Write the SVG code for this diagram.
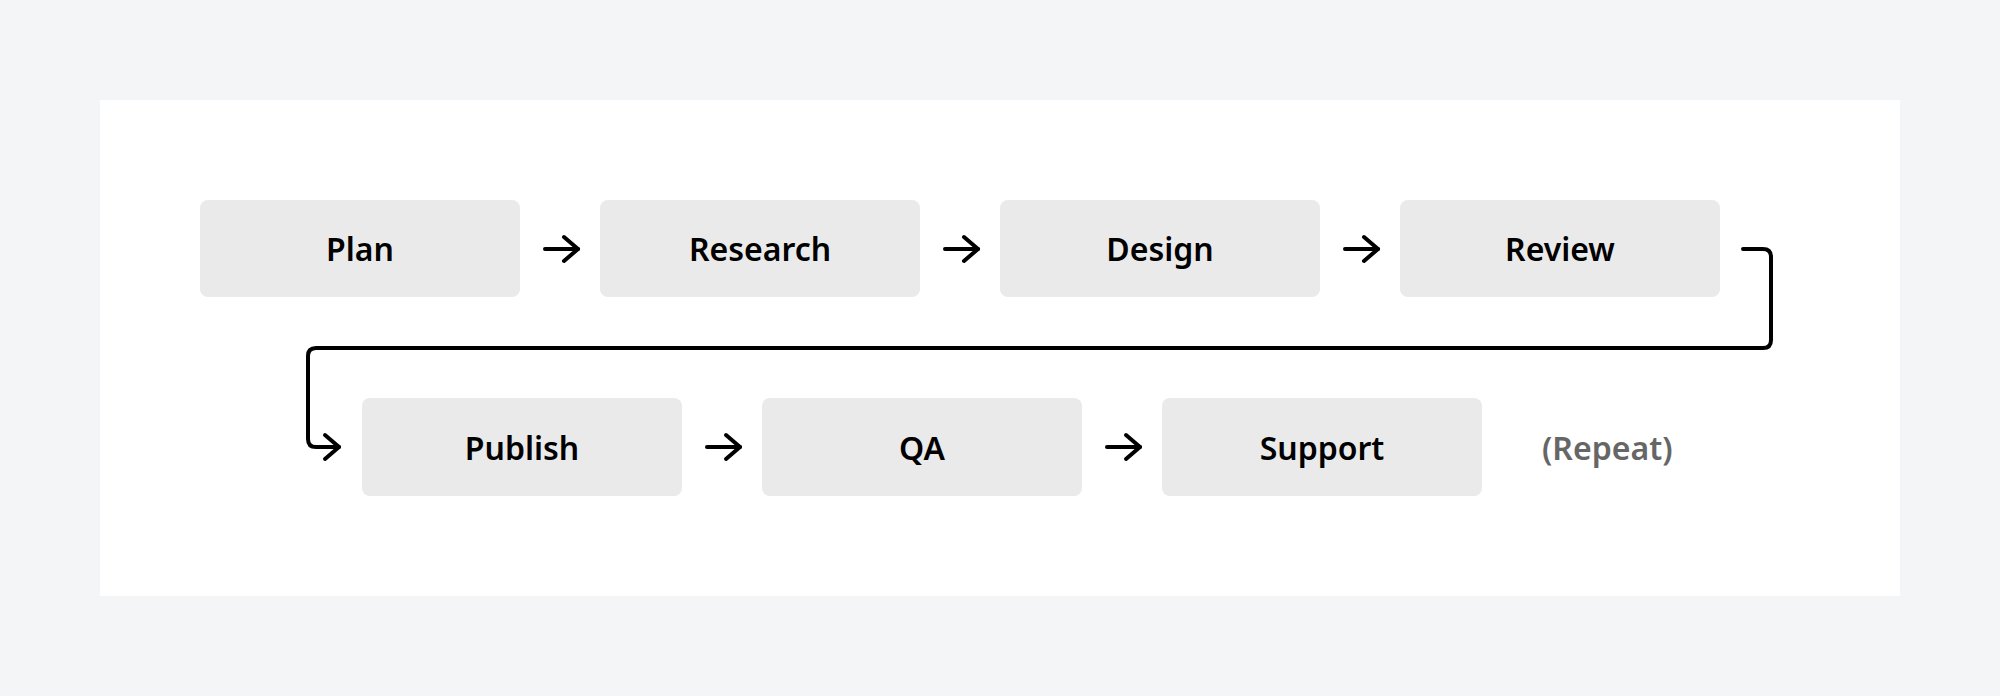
<svg xmlns="http://www.w3.org/2000/svg" width="2000" height="696" viewBox="0 0 2000 696">
<defs>
<style>
.node rect{fill:#eaeaea}
.node text{font-family:"Noto Sans","Open Sans",sans-serif;font-weight:600;font-size:32px;fill:#000;text-anchor:middle;dominant-baseline:central}
.conn{fill:none;stroke:#000;stroke-width:4;stroke-linecap:round;stroke-linejoin:round}
.note{font-family:"Noto Sans","Open Sans",sans-serif;font-weight:600;font-size:32px;fill:#666}
</style>
<marker id="ah" viewBox="0 0 20 30" refX="17" refY="15" markerWidth="20" markerHeight="30" markerUnits="userSpaceOnUse" orient="auto">
<path d="M3 3 L17 15 L3 27" fill="none" stroke="#000" stroke-width="4" stroke-linecap="round" stroke-linejoin="round"/>
</marker>
</defs>
<rect width="2000" height="696" fill="#f4f5f7"/>
<rect x="100" y="100" width="1800" height="496" fill="#fff"/>
<g id="plan" class="node"><rect x="200" y="200" width="320" height="97" rx="8"/><text x="360" y="248.5">Plan</text></g>
<g id="research" class="node"><rect x="600" y="200" width="320" height="97" rx="8"/><text x="760" y="248.5">Research</text></g>
<g id="design" class="node"><rect x="1000" y="200" width="320" height="97" rx="8"/><text x="1160" y="248.5">Design</text></g>
<g id="review" class="node"><rect x="1400" y="200" width="320" height="97" rx="8"/><text x="1560" y="248.5">Review</text></g>
<g id="publish" class="node"><rect x="362" y="398" width="320" height="98" rx="8"/><text x="522" y="447">Publish</text></g>
<g id="qa" class="node"><rect x="762" y="398" width="320" height="98" rx="8"/><text x="922" y="447">QA</text></g>
<g id="support" class="node"><rect x="1162" y="398" width="320" height="98" rx="8"/><text x="1322" y="447">Support</text></g>
<text class="note" x="1542" y="447" dominant-baseline="central">(Repeat)</text>
<g id="connectors">
<path class="conn" d="M545 249 H578" marker-end="url(#ah)"/>
<path class="conn" d="M945 249 H978" marker-end="url(#ah)"/>
<path class="conn" d="M1345 249 H1378" marker-end="url(#ah)"/>
<path class="conn" d="M1743 249 H1763 Q1771 249 1771 257 V340 Q1771 348 1763 348 H316 Q308 348 308 356 V439 Q308 447 316 447 H339" marker-end="url(#ah)"/>
<path class="conn" d="M707 447 H740" marker-end="url(#ah)"/>
<path class="conn" d="M1107 447 H1140" marker-end="url(#ah)"/>
</g>
</svg>
